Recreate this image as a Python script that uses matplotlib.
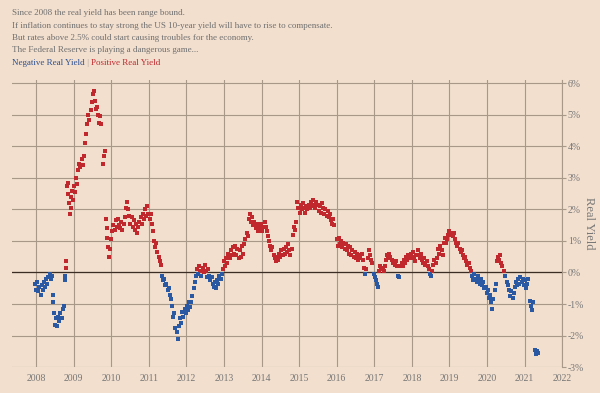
import numpy as np
import matplotlib
matplotlib.use('Agg')
import matplotlib.pyplot as plt
from matplotlib.ticker import FuncFormatter

# real yield (decimal year, percent)
year = [
    2007.97, 2008.00, 2008.03, 2008.06, 2008.09, 2008.12, 2008.15, 2008.18, 2008.21, 2008.24,
    2008.27, 2008.30, 2008.33, 2008.36, 2008.39, 2008.42, 2008.44, 2008.45, 2008.47, 2008.50,
    2008.53, 2008.56, 2008.59, 2008.62, 2008.65, 2008.68, 2008.71, 2008.74, 2008.76, 2008.78,
    2008.79, 2008.80, 2008.82, 2008.84, 2008.86, 2008.88, 2008.90, 2008.92, 2008.94, 2008.96,
    2008.98, 2009.00, 2009.03, 2009.06, 2009.09, 2009.12, 2009.15, 2009.18, 2009.21, 2009.24,
    2009.27, 2009.30, 2009.33, 2009.36, 2009.39, 2009.42, 2009.45, 2009.48, 2009.51, 2009.54,
    2009.57, 2009.60, 2009.62, 2009.65, 2009.68, 2009.71, 2009.74, 2009.77, 2009.80, 2009.83,
    2009.86, 2009.88, 2009.90, 2009.92, 2009.94, 2009.97, 2010.00, 2010.03, 2010.06, 2010.09,
    2010.12, 2010.15, 2010.18, 2010.21, 2010.24, 2010.27, 2010.30, 2010.33, 2010.36, 2010.39,
    2010.42, 2010.45, 2010.48, 2010.51, 2010.54, 2010.57, 2010.60, 2010.63, 2010.66, 2010.69,
    2010.72, 2010.75, 2010.78, 2010.81, 2010.84, 2010.87, 2010.90, 2010.93, 2010.96, 2010.99,
    2011.02, 2011.05, 2011.08, 2011.11, 2011.14, 2011.17, 2011.20, 2011.23, 2011.26, 2011.29,
    2011.32, 2011.35, 2011.38, 2011.41, 2011.44, 2011.47, 2011.50, 2011.53, 2011.56, 2011.59,
    2011.62, 2011.65, 2011.68, 2011.71, 2011.74, 2011.77, 2011.80, 2011.83, 2011.86, 2011.89,
    2011.92, 2011.95, 2011.98, 2012.01, 2012.04, 2012.07, 2012.10, 2012.13, 2012.16, 2012.19,
    2012.22, 2012.25, 2012.28, 2012.31, 2012.34, 2012.37, 2012.40, 2012.43, 2012.46, 2012.49,
    2012.52, 2012.55, 2012.58, 2012.61, 2012.64, 2012.67, 2012.70, 2012.73, 2012.76, 2012.79,
    2012.82, 2012.85, 2012.88, 2012.91, 2012.94, 2012.97, 2013.00, 2013.03, 2013.06, 2013.09,
    2013.12, 2013.15, 2013.18, 2013.21, 2013.24, 2013.27, 2013.30, 2013.33, 2013.36, 2013.39,
    2013.42, 2013.45, 2013.48, 2013.51, 2013.54, 2013.57, 2013.60, 2013.63, 2013.66, 2013.69,
    2013.72, 2013.75, 2013.78, 2013.81, 2013.84, 2013.87, 2013.90, 2013.93, 2013.96, 2013.99,
    2014.02, 2014.05, 2014.08, 2014.11, 2014.14, 2014.17, 2014.20, 2014.23, 2014.26, 2014.29,
    2014.32, 2014.35, 2014.38, 2014.41, 2014.44, 2014.47, 2014.50, 2014.53, 2014.56, 2014.59,
    2014.62, 2014.65, 2014.68, 2014.71, 2014.74, 2014.77, 2014.80, 2014.83, 2014.86, 2014.89,
    2014.92, 2014.95, 2014.98, 2015.01, 2015.04, 2015.07, 2015.10, 2015.13, 2015.16, 2015.19,
    2015.22, 2015.25, 2015.28, 2015.31, 2015.34, 2015.37, 2015.40, 2015.43, 2015.46, 2015.49,
    2015.52, 2015.55, 2015.58, 2015.61, 2015.64, 2015.67, 2015.70, 2015.73, 2015.76, 2015.79,
    2015.82, 2015.85, 2015.88, 2015.91, 2015.94, 2016.00, 2016.03, 2016.06, 2016.09, 2016.12,
    2016.15, 2016.18, 2016.21, 2016.24, 2016.27, 2016.30, 2016.33, 2016.36, 2016.39, 2016.42,
    2016.45, 2016.48, 2016.51, 2016.54, 2016.57, 2016.60, 2016.63, 2016.66, 2016.69, 2016.72,
    2016.75, 2016.78, 2016.82, 2016.85, 2016.88, 2016.91, 2016.94, 2016.98, 2017.01, 2017.04,
    2017.07, 2017.10, 2017.13, 2017.16, 2017.19, 2017.22, 2017.25, 2017.28, 2017.31, 2017.34,
    2017.37, 2017.40, 2017.43, 2017.46, 2017.49, 2017.52, 2017.55, 2017.58, 2017.61, 2017.64,
    2017.67, 2017.70, 2017.73, 2017.76, 2017.79, 2017.82, 2017.85, 2017.88, 2017.91, 2017.94,
    2017.97, 2018.00, 2018.03, 2018.06, 2018.09, 2018.12, 2018.15, 2018.18, 2018.21, 2018.24,
    2018.27, 2018.30, 2018.33, 2018.36, 2018.39, 2018.42, 2018.45, 2018.48, 2018.51, 2018.54,
    2018.57, 2018.60, 2018.63, 2018.66, 2018.70, 2018.73, 2018.76, 2018.79, 2018.82, 2018.85,
    2018.88, 2018.91, 2018.94, 2018.97, 2019.00, 2019.03, 2019.06, 2019.09, 2019.12, 2019.15,
    2019.18, 2019.21, 2019.24, 2019.27, 2019.30, 2019.33, 2019.36, 2019.39, 2019.42, 2019.45,
    2019.48, 2019.51, 2019.54, 2019.57, 2019.60, 2019.63, 2019.66, 2019.69, 2019.72, 2019.75,
    2019.78, 2019.81, 2019.84, 2019.87, 2019.90, 2019.93, 2019.96, 2019.99, 2020.02, 2020.05,
    2020.08, 2020.11, 2020.14, 2020.17, 2020.20, 2020.23, 2020.26, 2020.29, 2020.32, 2020.35,
    2020.38, 2020.41, 2020.44, 2020.47, 2020.53, 2020.56, 2020.59, 2020.62, 2020.65, 2020.68,
    2020.71, 2020.74, 2020.77, 2020.80, 2020.83, 2020.86, 2020.89, 2020.92, 2020.95, 2020.98,
    2021.01, 2021.04, 2021.07, 2021.10, 2021.13, 2021.16, 2021.19, 2021.22, 2021.28, 2021.31,
    2021.34, 2021.36,
]
real_yield = [
    -0.35, -0.55, -0.30, -0.60, -0.45, -0.70, -0.40, -0.55, -0.30, -0.45,
    -0.20, -0.35, -0.15, -0.05, -0.20, -0.10, -0.70, -0.95, -1.30, -1.65,
    -1.45, -1.70, -1.40, -1.55, -1.30, -1.45, -1.15, -1.05, -0.10, -0.25,
    0.15, 0.35, 2.75, 2.50, 2.85, 2.20, 1.85, 2.40, 2.05, 2.60,
    2.30, 2.75, 2.55, 3.00, 2.80, 3.25, 3.45, 3.35, 3.60, 3.40,
    3.70, 4.10, 4.40, 4.70, 5.00, 4.85, 5.15, 5.40, 5.65, 5.75,
    5.45, 5.20, 5.25, 5.00, 4.75, 4.95, 4.70, 3.45, 3.70, 3.85,
    1.70, 1.40, 1.10, 0.80, 0.50, 0.75, 1.05, 1.30, 1.50, 1.35,
    1.65, 1.45, 1.70, 1.50, 1.40, 1.60, 1.35, 1.55, 1.75, 2.05,
    2.25, 2.00, 1.80, 1.55, 1.75, 1.45, 1.65, 1.35, 1.55, 1.25,
    1.45, 1.60, 1.75, 1.55, 1.85, 1.70, 2.00, 1.80, 2.10, 1.85,
    1.70, 1.85, 1.55, 1.30, 1.00, 0.80, 0.95, 0.65, 0.50, 0.35,
    0.25, -0.10, -0.25, -0.20, -0.40, -0.35, -0.55, -0.50, -0.70, -0.85,
    -1.05, -1.40, -1.30, -1.75, -1.90, -2.10, -1.70, -1.45, -1.60, -1.25,
    -1.40, -1.15, -1.30, -1.05, -1.20, -0.95, -1.10, -0.95, -0.75, -0.50,
    -0.30, -0.10, 0.10, -0.05, 0.20, 0.05, -0.10, 0.15, 0.00, 0.25,
    0.05, -0.15, 0.10, -0.10, -0.25, -0.15, -0.35, -0.45, -0.30, -0.50,
    -0.25, -0.35, -0.10, -0.20, -0.05, 0.10, 0.35, 0.20, 0.45, 0.30,
    0.60, 0.45, 0.70, 0.55, 0.80, 0.60, 0.85, 0.55, 0.75, 0.45,
    0.70, 0.50, 0.85, 0.60, 0.90, 1.05, 1.25, 1.15, 1.70, 1.85,
    1.60, 1.75, 1.50, 1.60, 1.40, 1.55, 1.30, 1.45, 1.35, 1.55,
    1.30, 1.45, 1.60, 1.45, 1.30, 1.15, 1.00, 0.85, 0.70, 0.80,
    0.55, 0.45, 0.35, 0.50, 0.40, 0.60, 0.50, 0.70, 0.55, 0.75,
    0.60, 0.80, 0.65, 0.90, 0.70, 0.55, 0.75, 1.20, 1.45, 1.35,
    1.60, 2.25, 2.05, 1.90, 2.15, 2.00, 2.20, 2.05, 1.90, 2.10,
    2.00, 2.15, 2.05, 2.25, 2.10, 2.30, 2.15, 2.05, 2.25, 2.15,
    1.95, 2.10, 1.90, 2.20, 2.05, 1.85, 2.00, 1.80, 1.95, 1.75,
    1.85, 1.65, 1.55, 1.70, 1.50, 1.05, 0.85, 1.10, 0.90, 1.00,
    0.80, 0.95, 0.75, 0.90, 0.70, 0.85, 0.60, 0.80, 0.55, 0.70,
    0.50, 0.65, 0.45, 0.60, 0.40, 0.55, 0.45, 0.60, 0.40, 0.15,
    -0.05, 0.10, 0.45, 0.70, 0.55, 0.40, 0.30, -0.05, -0.15, -0.25,
    -0.35, -0.45, 0.05, 0.20, 0.10, 0.15, 0.05, 0.20, 0.40, 0.55,
    0.45, 0.60, 0.50, 0.40, 0.30, 0.35, 0.25, 0.35, 0.20, -0.10,
    -0.15, 0.20, 0.30, 0.20, 0.40, 0.30, 0.50, 0.40, 0.55, 0.45,
    0.60, 0.50, 0.65, 0.45, 0.35, 0.55, 0.70, 0.55, 0.45, 0.60,
    0.40, 0.30, 0.45, 0.25, 0.35, 0.20, 0.10, -0.05, -0.10, 0.05,
    0.25, 0.40, 0.30, 0.45, 0.75, 0.60, 0.85, 0.70, 0.55, 0.95,
    1.10, 0.95, 1.05, 1.20, 1.30, 1.20, 1.25, 1.15, 1.25, 1.05,
    0.95, 0.85, 0.95, 0.75, 0.65, 0.70, 0.55, 0.45, 0.50, 0.35,
    0.25, 0.30, 0.15, 0.05, -0.10, -0.25, -0.05, -0.20, -0.30, -0.10,
    -0.25, -0.35, -0.20, -0.40, -0.30, -0.50, -0.45, -0.65, -0.55, -0.80,
    -0.70, -0.95, -1.15, -0.85, -0.55, -0.35, 0.35, 0.50, 0.40, 0.55,
    0.30, 0.20, 0.05, -0.10, -0.30, -0.40, -0.55, -0.75, -0.60, -0.80,
    -0.65, -0.45, -0.30, -0.40, -0.20, -0.35, -0.15, -0.30, -0.20, -0.40,
    -0.25, -0.50, -0.35, -0.20, -0.90, -1.05, -1.20, -0.95, -2.45, -2.60,
    -2.50, -2.55,
]

header = [
    'Since 2008 the real yield has been range bound.',
    'If inflation continues to stay strong the US 10-year yield will have to rise to compensate.',
    'But rates above 2.5% could start causing troubles for the economy.',
    'The Federal Reserve is playing a dangerous game...',
]
year_ticks = list(range(2008, 2023))
pct_ticks = list(range(-3, 7))

bg = '#f2dfce'
red = '#c0282e'
blue = '#2b58a3'
grid_col = '#a89888'
txt_col = '#777777'

plt.rcParams['font.family'] = ['Liberation Serif', 'DejaVu Serif']

fig = plt.figure(figsize=(6, 3.93), dpi=100, facecolor=bg)
ax = fig.add_axes([0.02, 0.066, 0.917, 0.730], facecolor=bg)

x = np.array(year)
y = np.array(real_yield)
neg = y < 0
ax.scatter(x[~neg], y[~neg], s=5, color=red, marker='s', linewidths=0, zorder=3)
ax.scatter(x[neg], y[neg], s=5, color=blue, marker='s', linewidths=0, zorder=3)

ax.set_xlim(2007.36, 2022)
ax.set_ylim(-3, 6.1)
ax.set_xticks(year_ticks)
ax.set_yticks(pct_ticks)
ax.yaxis.set_major_formatter(FuncFormatter(lambda v, p: f'{int(v)}%'))
ax.yaxis.tick_right()
ax.yaxis.set_label_position('right')
ax.grid(True, color=grid_col, linewidth=0.8)
ax.axhline(0, color='#3b2c24', linewidth=0.9, zorder=2)
ax.tick_params(axis='x', length=0, labelsize=7, colors=txt_col, pad=5)
ax.tick_params(axis='y', length=3, width=0.8, color=grid_col, labelsize=7, colors=txt_col, pad=1)
for s in ['top', 'left', 'bottom']:
    ax.spines[s].set_visible(False)
ax.spines['right'].set_color(grid_col)
ax.spines['right'].set_linewidth(0.8)
ax.set_ylabel('Real Yield', rotation=270, color=txt_col, fontsize=9, labelpad=8)

# header text
for i, line in enumerate(header):
    fig.text(0.02, 1 - (13 + i * 12.5) / 393, line, fontsize=6.5, color='#6f6f6f', va='center')

ly = 1 - (13 + 4 * 12.5) / 393
renderer = fig.canvas.get_renderer()
xpos = 0.02
for part, col in [('Negative Real Yield', '#2b4f8f'), (' | ', '#b0a8a0'), ('Positive Real Yield', red)]:
    t = fig.text(xpos, ly, part, fontsize=6.5, color=col, va='center')
    bb = t.get_window_extent(renderer)
    xpos += bb.width / fig.bbox.width

fig.savefig('out.png', dpi=100, facecolor=bg)
